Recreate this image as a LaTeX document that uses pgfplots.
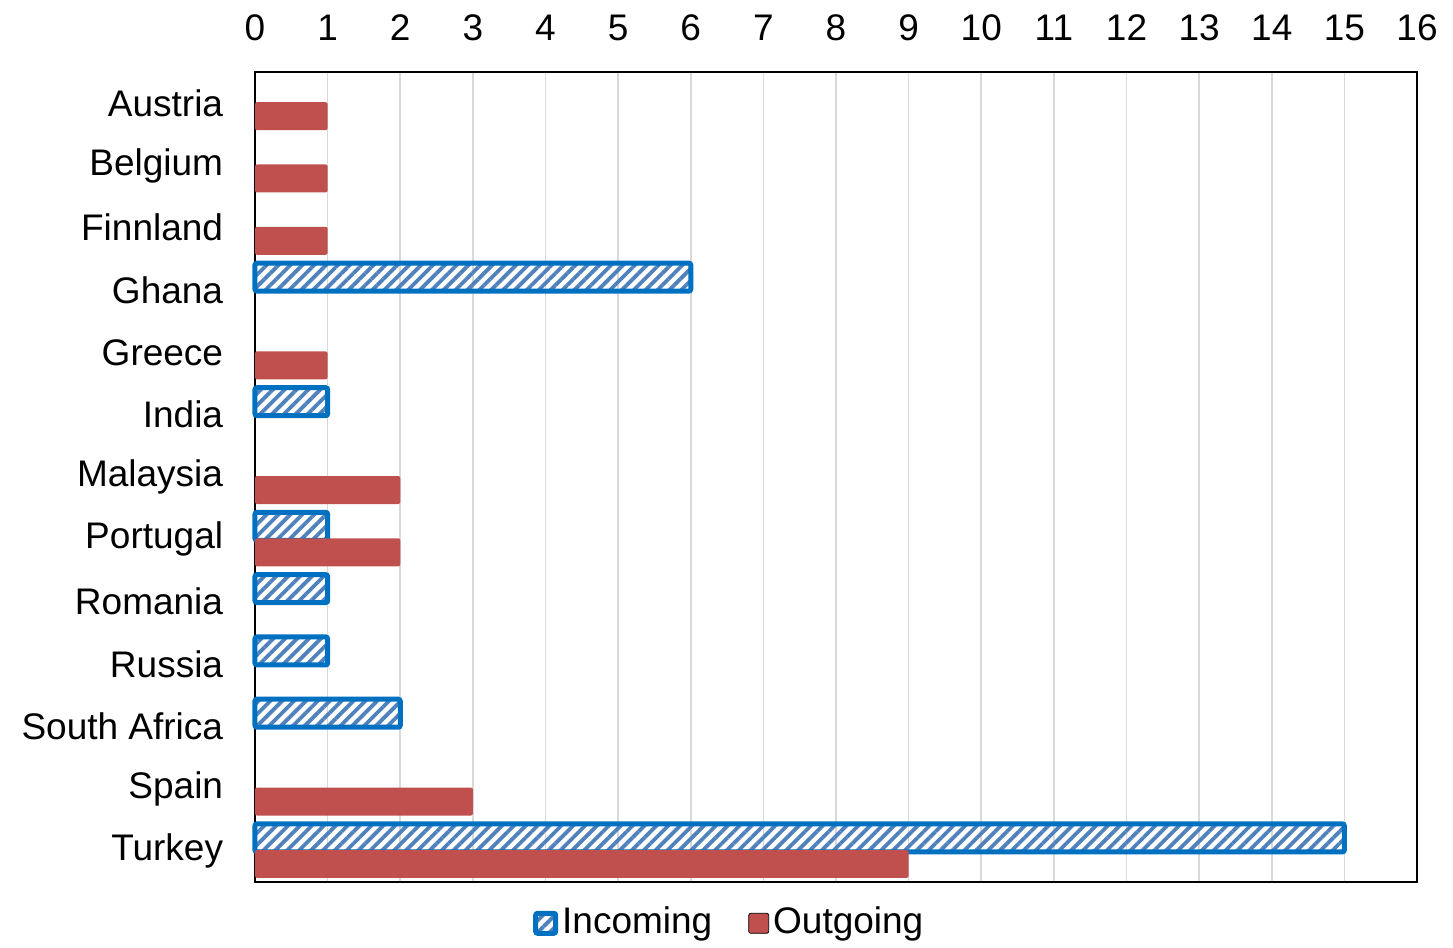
\documentclass[border=0pt]{standalone}
\usepackage{fontspec}
\setmainfont{Liberation Sans}
\usepackage{pgfplots}
\pgfplotsset{compat=1.18}
\usetikzlibrary{patterns.meta,calc}
\definecolor{outred}{HTML}{C0504D}
\definecolor{inblue}{HTML}{0070C0}
\definecolor{hatchblue}{HTML}{4F81BD}
\definecolor{gridgray}{HTML}{D9D9D9}
\begin{document}
\fontsize{18.5}{22}\selectfont
\begin{tikzpicture}
\begin{axis}[
  scale only axis,
  width=581pt, height=405pt,
  xbar, bar width=14pt,
  y dir=reverse,
  xmin=0, xmax=16,
  ymin=-0.5, ymax=12.5,
  xtick={0,...,16},
  ytick={0,...,12},
  yticklabels={Austria,Belgium,Finnland,Ghana,Greece,India,Malaysia,Portugal,Romania,Russia,South Africa\hspace{5pt},Spain,Turkey},
  xticklabel pos=top,
  tick style={draw=none},
  xmajorgrids, grid style={gridgray, line width=0.8pt},
  axis line style={black, line width=1pt},
  /pgf/number format/assume math mode=true,
  xticklabel style={anchor=south, inner sep=0pt, yshift=15.5pt},
  yticklabel style={anchor=east, inner sep=0pt, xshift=-11.5pt},
  legend style={at={(0.409,-0.051)}, anchor=center, draw=none, fill=none,
    legend columns=-1, font=\fontsize{18.5}{22}\selectfont,
    /tikz/every even column/.append style={column sep=16pt}},
  legend image code/.code={\draw[#1] (1pt,-5pt) rectangle (11pt,5pt);},
  clip=false,
]
\addplot[draw=inblue, line width=2.5pt, rounded corners=1pt,
  pattern={Lines[angle=45,distance=4.2pt,line width=1.9pt]}, pattern color=hatchblue,
  bar shift=6.5pt]
  coordinates {(6,3) (1,5) (1,7) (1,8) (1,9) (2,10) (15,12)};
\addplot[draw=none, fill=outred, rounded corners=1pt, bar shift=-6.5pt]
  coordinates {(1,0) (1,1) (1,2) (1,4) (2,6) (2,7) (3,11) (9,12)};
\legend{Incoming,Outgoing}
\end{axis}
\path ($(current axis.south west)+(-127.5pt,-29.5pt)$) rectangle ($(current axis.north east)+(18pt,36pt)$);
\end{tikzpicture}
\end{document}
